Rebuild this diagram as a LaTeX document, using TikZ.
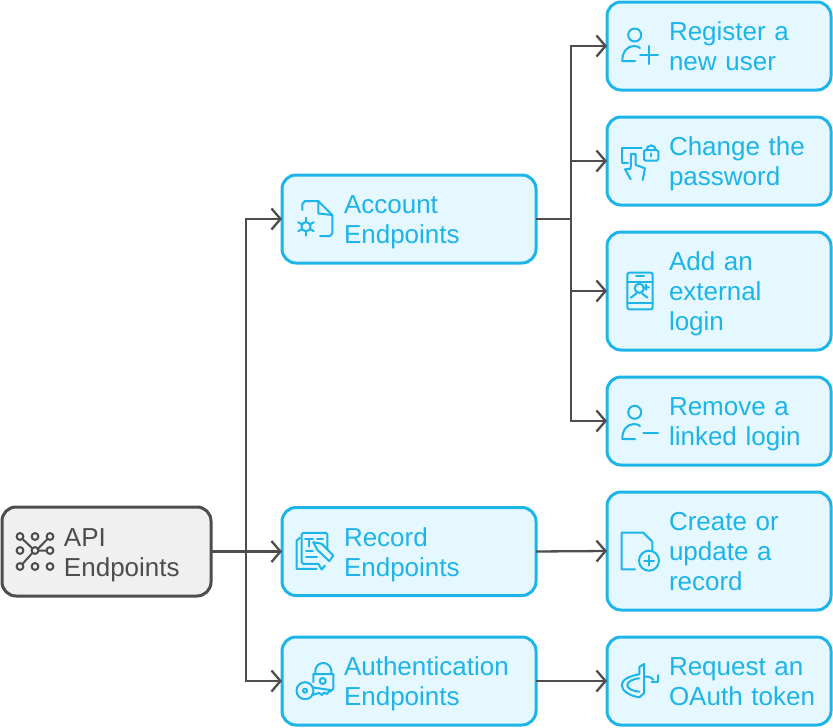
\documentclass[tikz,border=0pt]{standalone}
\usepackage{fontspec}
\setmainfont{Liberation Sans}
\usepackage[svgnames]{xcolor}
\usetikzlibrary{arrows.meta}
\definecolor{boxblue}{HTML}{1DB4E8}
\definecolor{paleblue}{HTML}{E5F8FF}
\definecolor{slate}{HTML}{4D4D4D}
\definecolor{palegray}{HTML}{F0F0F0}
\tikzset{
  x=1pt, y=-1pt,
  basebox/.style={draw, rectangle, rounded corners=14pt, line width=3pt, align=left, inner sep=3pt, outer sep=0pt,
    font=\fontsize{26}{30}\selectfont,
    execute at begin node={\leftskip=58.5pt\relax\rule{0pt}{27pt}},
    execute at end node={\rule[-8pt]{0pt}{8pt}}},
  apibox/.style={basebox, draw=slate, fill=palegray, text=slate, minimum width=209pt, minimum height=89pt, text width=202pt},
  groupbox/.style={basebox, draw=boxblue, fill=paleblue, text=boxblue, minimum width=254pt, minimum height=88pt, text width=247pt},
  leafbox/.style={basebox, draw=boxblue, fill=paleblue, text=boxblue, minimum width=224pt, minimum height=88pt, text width=217pt},
  link/.style={draw=slate, line width=2.3pt, -{Straight Barb[length=9pt,width=21pt,line width=2.3pt]}},
  icon/.style={line width=2pt, line cap=round, line join=round, draw=boxblue},
  usericon/.pic={
    \draw[icon] (-5.3,-11) circle[radius=6.5];
    \draw[icon] (-5,15) -- (-17.7,15) .. controls (-17.7,6) and (-13,0) .. (-6,0) .. controls (-3,0) and (-1,1) .. (0,2);
  },
  userplus/.pic={
    \pic {usericon};
    \draw[icon] (0,9) -- (18,9) (9,0) -- (9,18);
  },
  userminus/.pic={
    \draw[icon] (-5.3,-8.7) circle[radius=6.5];
    \draw[icon] (-5,18) -- (-17.7,18) .. controls (-17.7,9) and (-13,3) .. (-6,3) .. controls (-3,3) and (-1,4) .. (0,5);
    \draw[icon] (3.3,11.7) -- (18,11.7);
  },
  handlock/.pic={
    \draw[icon] (-12,1.7) -- (-18.3,1.7) -- (-18.3,-13.3) -- (1.7,-13.3);
    \draw[icon, rounded corners=1.5pt] (4,-11) rectangle (18.3,-.3);
    \draw[icon] (6.5,-11) arc[radius=4.6,start angle=180,end angle=360];
    \draw[icon] (11.1,-7.5) -- (11.1,-4.5);
    \draw[icon] (-9.3,18.3) -- (-15,8.3) -- (-9.3,7.7) -- (-9,-7) -- (-4.3,-7) -- (-4.3,4) -- (5,7.3) -- (2.7,19);
  },
  phoneuser/.pic={
    \draw[icon, rounded corners=2pt] (-12.7,-18.3) rectangle (12.7,18.3);
    \draw[icon] (-12.7,-9.3) -- (12.7,-9.3) (-12.7,11.7) -- (12.7,11.7) (-4,-15) -- (4,-15);
    \draw[icon] (-.7,-2.7) circle[radius=4.6];
    \draw[icon] (-9.3,6.7) -- (-3.5,2.5) (2,2.5) -- (7.5,6.7) (3.5,-3.7) -- (9,-3.7) (6.2,-6.5) -- (6.2,-1);
  },
  docplus/.pic={
    \draw[icon] (-5,18.3) -- (-18.3,18.3) -- (-18.3,-18.3) -- (3.3,-18.3) -- (12.3,-9.3) -- (12.3,-1);
    \draw[icon] (9,9.7) circle[radius=10];
    \draw[icon] (4,9.7) -- (14,9.7) (9,4.7) -- (9,14.7);
  },
  openidicon/.pic={
    \draw[icon] (-.7,-6.7) .. controls (-11,-5) and (-18.3,-1) .. (-18.3,4) .. controls (-18.3,10) and (-10,15) .. (-.7,16.3) -- (4,12.3) -- (4,-17) -- (-.7,-14) -- cycle;
    \draw[icon] (-.7,-2.7) .. controls (-8,-2) and (-12.7,1) .. (-12.7,4) .. controls (-12.7,7.5) and (-8,10) .. (-.7,10.7);
    \draw[icon] (4,-4.3) .. controls (9,-5) and (12,-3) .. (13.5,-1);
    \draw[icon] (18,-6) -- (18,.7) -- (11.7,.7);
  },
  docgear/.pic={
    \draw[icon] (-12.7,-9) -- (-12.7,-15) -- (-10,-18) -- (3.3,-18) -- (17.3,-4) -- (17.3,14.3) -- (15,17) -- (5,17);
    \draw[icon] (3.3,-18) -- (3.3,-5.5) -- (17.3,-4);
    \draw[icon] (-9,7.7) circle[radius=4.6];
    \foreach \ang in {30,90,...,330} {
      \draw[icon] (-9,7.7) ++(\ang:4.6) -- ++(\ang:4.4);
    }
  },
  docpencil/.pic={
    \draw[icon] (-15,-13.7) -- (-18.3,-11) -- (-18.3,17.3) -- (1.7,17.3);
    \draw[icon, rounded corners=1.5pt] (3.3,12.3) -- (-13.3,12.3) -- (-13.3,-18.7) -- (12.3,-18.7) -- (12.3,-3);
    \draw[icon] (-10,-12.7) -- (-2,-12.7) (-6,-12.7) -- (-6,-5) (2,-12.7) -- (8,-12.7) (-9,-1) -- (-2,-1) (-9,5.7) -- (2,5.7);
    \draw[icon] (-1.7,-9.3) -- (6.7,-7.7) -- (18.3,4) -- (14.3,9.7) -- (2.3,-1.7) -- cycle;
    \draw[icon] (3.3,12.3) -- (6.7,18) -- (10,14);
  },
  keylock/.pic={
    \draw[icon] (-1.7,1) -- (-1.7,-7) -- (18.3,-7) -- (18.3,8) -- (15,10.7);
    \draw[icon] (.3,-7) -- (.3,-10) arc[radius=8,start angle=180,end angle=360] -- (16.3,-7);
    \draw[icon] (7.7,0) circle[radius=3];
    \draw[icon] (-10,9.7) circle[radius=8.5];
    \draw[icon] (-10,9.7) circle[radius=2];
    \draw[icon] (-2.7,6.3) -- (15,9) -- (12,13) -- (9,11.5) -- (7,14) -- (4,12) -- (-2.7,14);
  },
  apiicon/.pic={
    \foreach \xx in {-15,0,15} {
      \foreach \yy in {-15,-1,15} {
        \draw[icon, draw=slate] (\xx,\yy) circle[radius=3.4];
      }
    }
    \draw[icon, draw=slate] (-12.6,-12.6) -- (-2.4,-3) (2.6,-2.4) -- (12.6,-12.6) (3.4,-1) -- (11.6,-1) (-2.4,1.2) -- (-12.6,12.6);
  },
}
\begin{document}
\begin{tikzpicture}
\useasboundingbox (0,0) rectangle (833,728);

\node[apibox] (api) at (106.5,551.5) {API\\Endpoints};

\node[groupbox] (account) at (409,219) {Account\\Endpoints};
\node[groupbox] (record) at (409,551.5) {Record\\Endpoints};
\node[groupbox] (auth) at (409,681) {Authentication\\Endpoints};

\node[leafbox] (register) at (719,46) {Register a\\new user};
\node[leafbox] (password) at (719,161) {Change the\\password};
\node[leafbox, minimum height=118pt] (external) at (719,291) {Add an\\external\\login};
\node[leafbox] (linked) at (719,421) {Remove a\\linked login};
\node[leafbox, minimum height=118pt] (create) at (719,551) {Create or\\update a\\record};
\node[leafbox] (oauth) at (719,681) {Request an\\OAuth token};

\coordinate (apitrunk) at (246,551.5);
\coordinate (accounttrunk) at (571,219);

\draw[link] (api.east) -- (record.west);
\draw[link] (apitrunk) |- (account.west);
\draw[link] (apitrunk) |- (auth.west);

\draw[link] (accounttrunk) |- (register.west);
\draw[link] (accounttrunk) |- (password.west);
\draw[link] (accounttrunk) |- (external.west);
\draw[link] (accounttrunk) |- (linked.west);
\draw[draw=slate, line width=2.3pt] (account.east) -- (accounttrunk);

\draw[link] (record.east) -- (create.west);
\draw[link] (auth.east) -- (oauth.west);

\pic at ([xshift=33]api.west) {apiicon};
\pic at ([xshift=33]account.west) {docgear};
\pic at ([xshift=33]record.west) {docpencil};
\pic at ([xshift=33]auth.west) {keylock};
\pic at ([xshift=33]register.west) {userplus};
\pic at ([xshift=33]password.west) {handlock};
\pic at ([xshift=33]external.west) {phoneuser};
\pic at ([xshift=33]linked.west) {userminus};
\pic at ([xshift=33]create.west) {docplus};
\pic at ([xshift=33]oauth.west) {openidicon};
\end{tikzpicture}
\end{document}
